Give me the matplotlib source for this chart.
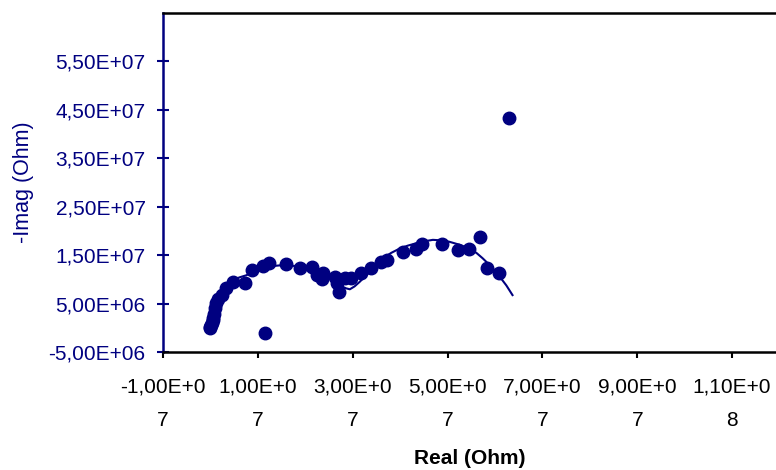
import matplotlib
matplotlib.use("Agg")
import matplotlib.pyplot as plt
import numpy as np

plt.rcParams["font.family"] = ["Liberation Sans", "DejaVu Sans"]

NAVY = "#000080"

# Measured impedance points (values in units of 1e6 Ohm)
real_meas = [-0.1, 0.0, 0.2, 0.25, 0.5, 0.6, 0.74, 0.95, 1.2, 1.6, 2.35, 3.3,
             4.7, 7.3, 8.7, 11.1, 12.4, 15.9, 18.8, 21.4, 22.4, 23.7, 23.6,
             26.2, 26.6, 27.1, 28.3, 29.7, 31.8, 33.9, 36.0, 37.2, 40.7, 43.3,
             44.7, 48.9, 52.2, 54.5, 56.9, 58.3, 60.8, 62.9, 11.6]
imag_meas = [0.3, 0.0, 0.6, 1.0, 1.6, 2.0, 3.0, 4.1, 5.1, 6.0, 6.8, 8.2,
             9.6, 9.4, 12.0, 12.8, 13.4, 13.3, 12.3, 12.5, 10.9, 11.3, 10.05,
             10.6, 9.2, 7.5, 10.3, 10.3, 11.4, 12.3, 13.7, 14.0, 15.7, 16.4,
             17.3, 17.3, 16.1, 16.4, 18.7, 12.3, 11.4, 43.25, -1.0]

# Fitted equivalent-circuit curve (values in units of 1e6 Ohm)
real_fit = [0.0, 0.4, 0.95, 1.7, 2.7, 3.7, 4.8, 6.1, 7.6, 9.0, 10.4, 12.8,
            15.3, 17.0, 18.8, 20.6, 22.4, 23.9, 25.2, 26.5, 27.6, 28.6, 29.4,
            30.4, 31.5, 32.5, 33.6, 35.0, 36.4, 38.1, 39.9, 41.6, 43.4, 45.1,
            46.9, 48.6, 50.4, 52.5, 54.6, 56.1, 57.4, 59.3, 61.0, 62.4, 63.7]
imag_fit = [0.0, 2.5, 4.75, 6.5, 7.85, 8.95, 9.9, 10.45, 10.9, 11.6, 12.3, 12.75,
            13.0, 12.9, 12.65, 12.35, 12.0, 11.35, 10.6, 9.6, 8.67, 8.2, 8.0,
            8.6, 9.56, 10.55, 11.6, 13.0, 14.4, 15.5, 16.4, 17.0, 17.5, 17.9,
            18.2, 18.1, 17.8, 17.2, 16.4, 15.5, 14.4, 12.6, 10.6, 8.8, 6.8]

x_tick_values = [-1.0e7, 1.0e7, 3.0e7, 5.0e7, 7.0e7, 9.0e7, 1.1e8]
x_tick_labels = ["-1,00E+0\n7", "1,00E+0\n7", "3,00E+0\n7", "5,00E+0\n7",
                 "7,00E+0\n7", "9,00E+0\n7", "1,10E+0\n8"]
y_tick_values = [-5.0e6, 5.0e6, 1.5e7, 2.5e7, 3.5e7, 4.5e7, 5.5e7]
y_tick_labels = ["-5,00E+06", "5,00E+06", "1,50E+07", "2,50E+07",
                 "3,50E+07", "4,50E+07", "5,50E+07"]

W, H = 776, 470
fig = plt.figure(figsize=(W / 100, H / 100), dpi=100)
left, right, top, bottom = 163, 779.5, 13, 352.3
ax = fig.add_axes([left / W, 1 - bottom / H, (right - left) / W, (bottom - top) / H])

scale = 1e6
ax.plot(np.array(real_fit) * scale, np.array(imag_fit) * scale, color=NAVY,
        lw=1.5, zorder=2, solid_joinstyle="round")
ax.plot(np.array(real_meas) * scale, np.array(imag_meas) * scale, "o",
        color=NAVY, ms=9, mec=NAVY, zorder=3)

ax.set_xlim(-1.0e7, 1.2e8)
ax.set_ylim(-5.0e6, 6.5e7)

ax.set_xticks(x_tick_values)
ax.set_xticklabels(x_tick_labels, fontsize=15, color="black", linespacing=1.95)
ax.set_yticks(y_tick_values)
ax.set_yticklabels(y_tick_labels, fontsize=15, color=NAVY)

ax.tick_params(axis="x", direction="out", length=4, width=1.5, color="black", pad=14)
ax.tick_params(axis="y", direction="inout", length=9, width=1.5, color=NAVY, pad=8)

for side in ["top", "right", "bottom"]:
    ax.spines[side].set_color("black")
    ax.spines[side].set_linewidth(1.8)
ax.spines["left"].set_color(NAVY)
ax.spines["left"].set_linewidth(1.8)

fig.text(23 / W, 1 - 182.5 / H, "-Imag (Ohm)", rotation=90, ha="center",
         va="center", fontsize=15.5, color=NAVY)
fig.text(470 / W, 1 - 459 / H, "Real (Ohm)", ha="center", va="center",
         fontsize=15, fontweight="bold", color="black")

fig.savefig("out.png", dpi=100)
